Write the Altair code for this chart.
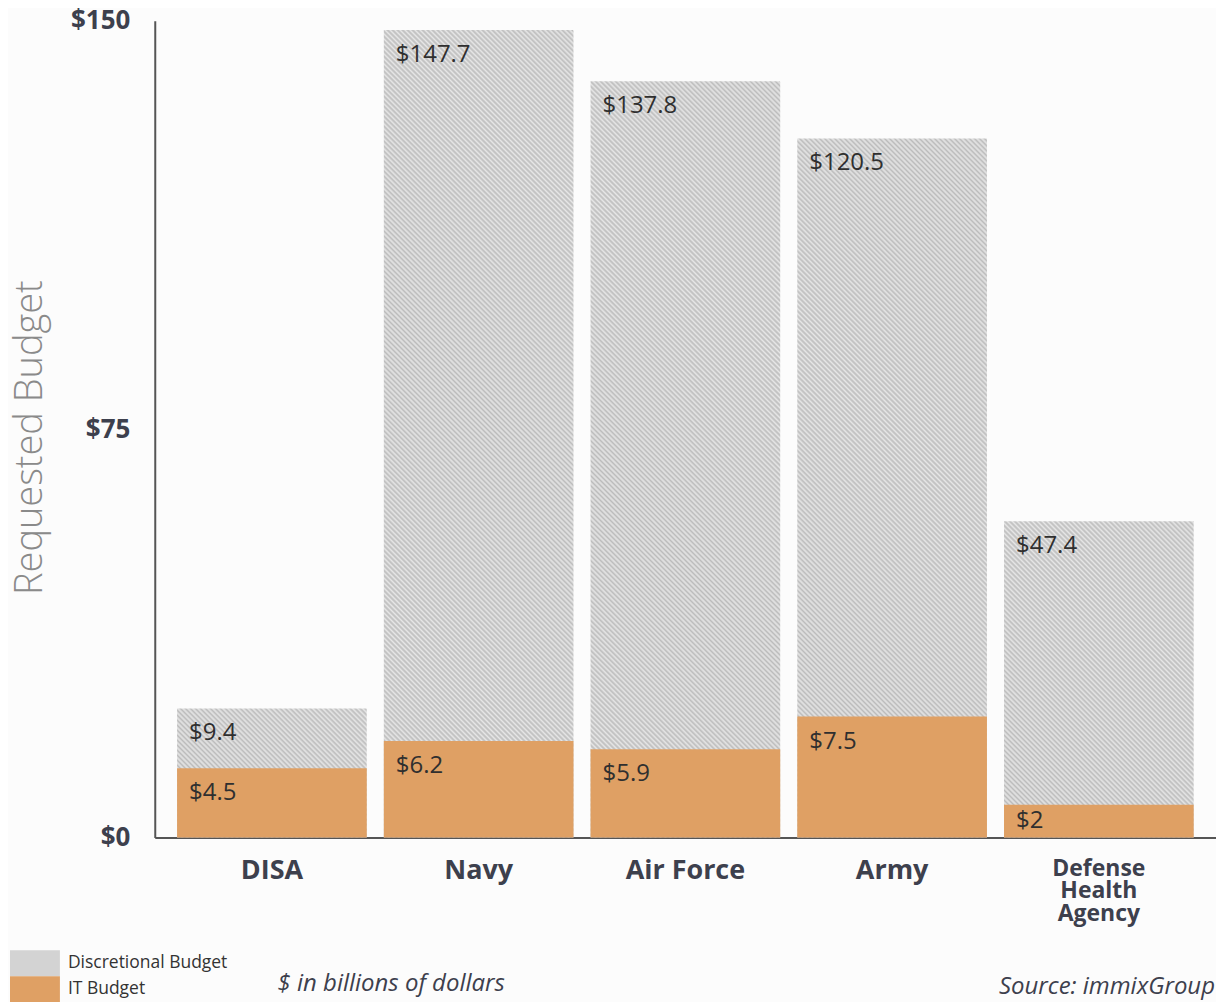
import altair as alt
import pandas as pd

# ---------------- data ----------------
categories = ["DISA", "Navy", "Air Force", "Army", "Defense Health Agency"]
series_names = ["Discretional Budget", "IT Budget"]
# printed labels
discretional_labels = ["$9.4", "$147.7", "$137.8", "$120.5", "$47.4"]
it_labels = ["$4.5", "$6.2", "$5.9", "$7.5", "$2"]
# drawn bar heights as read against the $0-$150 axis
discretional_heights = [23.7, 148.3, 138.9, 128.4, 58.1]
it_heights = [12.7, 17.7, 16.2, 22.2, 6.0]
y_ticks = [0, 75, 150]
note_text = ["$ in billions of dollars"]
source_text = ["Source: immixGroup"]

# ---------------- styling ----------------
W, H = 1063, 818
PAD_IN, PAD_OUT = 0.0826, 0.108
LIGHT, DARK = "#e6e6e6", "#bcbcbc"
ORANGE = "#dfa064"
GRAY = "#d3d3d3"
FONT = "Open Sans"
BG = "#fcfcfc"

step = W / (len(categories) - PAD_IN + 2 * PAD_OUT)
bar_w = step * (1 - PAD_IN)


def hatch(h_units):
    bh = h_units * H / 150.0
    bw = bar_w
    s = (bw + bh) / (bw * bw + bh * bh)
    total = bw + bh
    period = 5.0
    n = int(total / period) + 1
    stops = []
    for k in range(n):
        a = min(k * period / total, 1)
        b = min((k + 0.5) * period / total, 1)
        stops += [
            {"offset": round(a, 5), "color": LIGHT},
            {"offset": round(b, 5), "color": DARK},
        ]
    stops.append({"offset": 1, "color": LIGHT})
    return {"gradient": "linear", "x1": 0, "y1": 1,
            "x2": round(bw * s, 5), "y2": round(1 - bh * s, 5), "stops": stops}


rows = []
for i, c in enumerate(categories):
    rows.append(dict(category=c, series=series_names[0],
                     height=discretional_heights[i], label=discretional_labels[i]))
for i, c in enumerate(categories):
    rows.append(dict(category=c, series=series_names[1],
                     height=it_heights[i], label=it_labels[i]))
df = pd.DataFrame(rows)

notes = pd.DataFrame({"note": note_text, "source": source_text})

x_axis = alt.Axis(
    ticks=False, domainColor="#555555", domainWidth=2,
    labelFont=FONT, labelFontWeight="bold", labelColor="#3d404d",
    labelFontSize={"condition": {"test": "datum.value === 'Defense Health Agency'", "value": 23}, "value": 27},
    labelExpr="datum.value === 'Defense Health Agency' ? ['Defense', 'Health', 'Agency'] : datum.label",
    labelLineHeight=22.5, labelPadding=20, labelAngle=0, labelOverlap=False,
    labelBaseline="top",
)
y_axis = alt.Axis(values=y_ticks, labelExpr="'$' + datum.value", grid=False, ticks=False,
                  domainColor="#555555", domainWidth=2,
                  labelFont=FONT, labelFontWeight="bold", labelFontSize=26,
                  labelColor="#3d404d", labelPadding=25, labelBaseline="middle",
                  titleFont=FONT, titleFontSize=38, titleFontWeight=300,
                  titleColor="#8a8a8a", titleX=-124, titleY=417,
                  titleAngle=270, titleAlign="center", titleBaseline="middle")
x_scale = alt.Scale(paddingInner=PAD_IN, paddingOuter=PAD_OUT)
y_scale = alt.Scale(domain=[0, 150], nice=False)


def x_enc(**kw):
    return alt.X("category:N", sort=categories, title=None, scale=x_scale, axis=x_axis, **kw)


def y_enc(field):
    return alt.Y(field, scale=y_scale, stack=None, title="Requested Budget", axis=y_axis)


gray_fill = alt.FillValue(
    GRAY,
    condition=[{"test": f"datum.category === '{c}'", "value": hatch(h)}
               for c, h in zip(categories, discretional_heights)],
)

gray_bars = alt.Chart(df).transform_filter(
    alt.datum.series == series_names[0]
).mark_bar(strokeWidth=0).encode(
    x=x_enc(),
    y=y_enc("height:Q"),
    fill=gray_fill,
)

# legend swatch: drawn 50x26 while its layout box stays 26x26
SW = 26
it_bars = alt.Chart(df).transform_filter(
    alt.datum.series == series_names[1]
).mark_bar(strokeWidth=0).encode(
    x=x_enc(),
    y=y_enc("height:Q"),
    color=alt.Color(
        "series:N",
        scale=alt.Scale(domain=series_names, range=[GRAY, ORANGE]),
        legend=alt.Legend(
            orient="none", legendX=-133, legendY=931, title=None,
            symbolType="M-1.923,-1H1.923V1H-1.923Z", symbolSize=SW * SW, symbolStrokeWidth=0,
            symbolOpacity=1, labelFont=FONT, labelFontSize=17.5, labelColor="#333333",
            labelOffset=20, rowPadding=0, padding=0,
        ),
    ),
)

labels = alt.Chart(df).transform_calculate(
    label_y="datum.height - min(4.6, datum.height / 2)"
).mark_text(align="left", baseline="middle", dx=12, font=FONT, fontSize=24,
            color="#2f2f2f").encode(
    x=x_enc(bandPosition=0),
    y=y_enc("label_y:Q"),
    text="label:N",
)

note = alt.Chart(notes).mark_text(
    align="left", baseline="middle", font=FONT, fontSize=24, fontStyle="italic",
    color="#3d404d"
).encode(x=alt.value(123), y=alt.value(965), text="note:N")

source = alt.Chart(notes).mark_text(
    align="right", baseline="middle", font=FONT, fontSize=24, fontStyle="italic",
    color="#3d404d"
).encode(x=alt.value(1062), y=alt.value(968), text="source:N")

chart = alt.layer(gray_bars, it_bars, labels, note, source).properties(
    width=W, height=H,
    padding={"left": 147, "top": 12, "right": 0, "bottom": 164},
    autosize=alt.AutoSizeParams(type="none"),
    background=BG,
).configure(font=FONT).configure_view(stroke="transparent", strokeWidth=0)

chart.save("out.html", embed_options={"renderer": "svg", "actions": False})
